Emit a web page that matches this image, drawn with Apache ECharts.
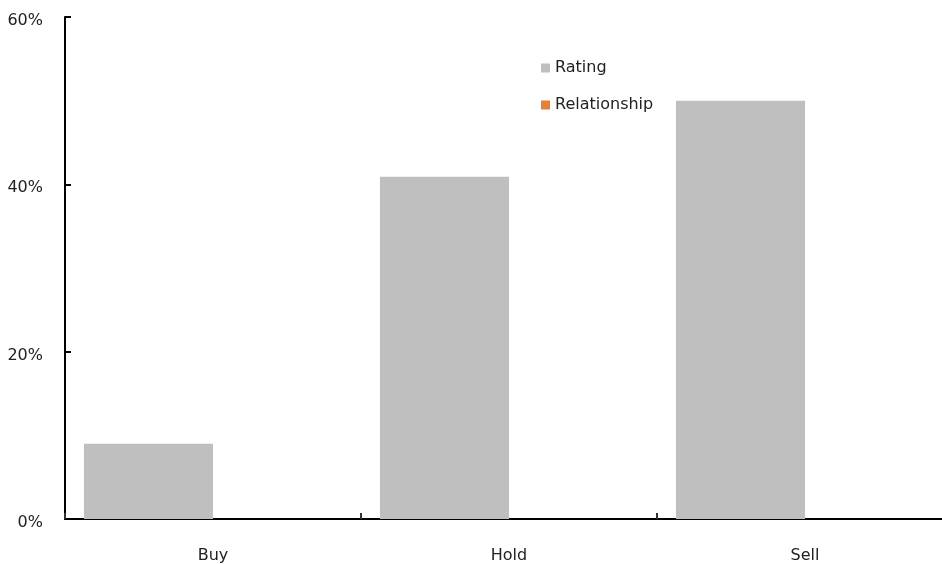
<!DOCTYPE html>
<html>
<head>
<meta charset="utf-8">
<script src="https://cdn.jsdelivr.net/npm/echarts@6/dist/echarts.min.js"></script>
<style>
  html, body { margin: 0; padding: 0; background: #fff; overflow: hidden; }
  /* wider than the window: the plot runs past the right edge, like the reference */
  #chart { width: 980px; height: 564px; }
</style>
</head>
<body>
<div id="chart"></div>
<script>
// data
const categories = ['Buy', 'Hold', 'Sell']
const rating = [9, 40.9, 50]
const relationship = ['-', '-', '-']
const yTicks = [0, 20, 40, 60]

const chart = echarts.init(document.getElementById('chart'))
const font = '"DejaVu Sans", sans-serif'

const option = {
  animation: false,
  textStyle: { fontFamily: font },
  grid: { left: 65, width: 888, top: 17, height: 502 },
  legend: {
    orient: 'vertical',
    left: 536,
    top: 55,
    itemWidth: 9,
    itemHeight: 9,
    itemGap: 21,
    icon: 'rect',
    textStyle: { fontFamily: font, fontSize: 16, color: '#222' },
    data: ['Rating', 'Relationship']
  },
  xAxis: {
    type: 'category',
    data: categories,
    axisLine: { lineStyle: { color: '#000', width: 2 } },
    axisTick: { show: true, inside: true, length: 6, lineStyle: { color: '#333', width: 2 } },
    axisLabel: { fontFamily: font, fontSize: 16, color: '#222', margin: 29 }
  },
  yAxis: {
    type: 'value',
    min: yTicks[0],
    max: yTicks[yTicks.length - 1],
    interval: 20,
    splitLine: { show: false },
    axisLine: { show: true, lineStyle: { color: '#000', width: 2 } },
    axisTick: { show: true, inside: true, length: 6, lineStyle: { color: '#000', width: 2 } },
    axisLabel: { fontFamily: font, fontSize: 16, color: '#222', margin: 22, verticalAlign: 'top', lineHeight: 8, formatter: '{value}%' }
  },
  series: [
    {
      name: 'Rating',
      type: 'bar',
      data: rating,
      barGap: '0%',
      barCategoryGap: '12.8%',
      itemStyle: { color: '#bfbfbf' }
    },
    {
      name: 'Relationship',
      type: 'bar',
      data: relationship,
      itemStyle: { color: '#ed7d31' }
    }
  ]
}

chart.setOption(option)
</script>
</body>
</html>
